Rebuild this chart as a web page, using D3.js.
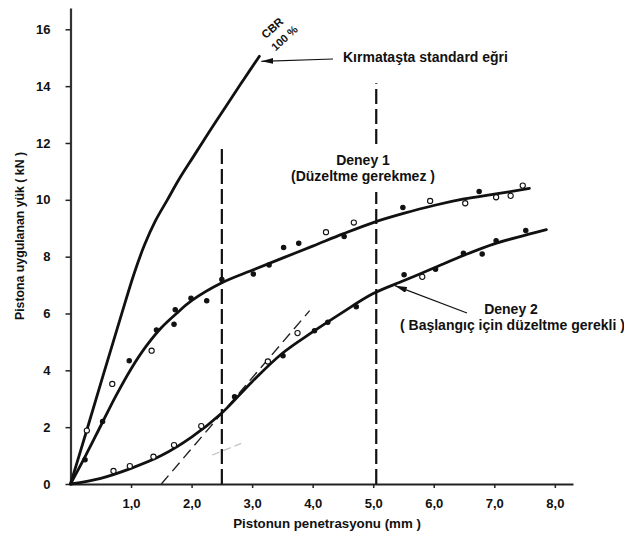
<!DOCTYPE html>
<html>
<head>
<meta charset="utf-8">
<script src="https://cdn.jsdelivr.net/npm/d3@7"></script>
<style>
  body { margin: 0; background: #fff; }
  svg text { font-family: 'Liberation Sans', Arial, sans-serif; font-weight: bold; fill: #111; }
</style>
</head>
<body>
<div id="chart"></div>
<script>
// Tick values
const xTicks = [1, 2, 3, 4, 5, 6, 7, 8];
const yTicks = [0, 2, 4, 6, 8, 10, 12, 14, 16];

// Standard curve for crushed stone (CBR 100 %), [mm, kN]
const standardCurve = [[0, 0], [0.27, 1.9], [0.55, 3.9], [0.84, 5.95], [1.05, 7.4], [1.22, 8.4],
  [1.4, 9.25], [1.6, 10.0], [1.8, 10.75], [2.03, 11.52], [2.3, 12.42], [2.58, 13.33], [2.85, 14.2],
  [3.12, 15.05]];

// Fitted curves of the two tests
const deney1Curve = [[0, 0], [0.25, 1.0], [0.5, 2.05], [0.75, 3.1], [1.0, 4.05], [1.25, 4.85], [1.5, 5.5],
  [1.75, 6.0], [2.0, 6.45], [2.5, 7.08], [3.0, 7.52], [3.5, 7.95], [4.0, 8.37], [4.5, 8.8], [5.0, 9.2],
  [5.5, 9.52], [6.0, 9.8], [6.5, 10.03], [7.0, 10.2], [7.58, 10.4]];
const deney2Curve = [[0, 0], [0.5, 0.2], [1.0, 0.55], [1.5, 1.0], [2.0, 1.65], [2.5, 2.5], [3.0, 3.6],
  [3.5, 4.6], [4.0, 5.35], [4.5, 6.05], [5.0, 6.7], [5.5, 7.15], [6.0, 7.6], [6.5, 8.05], [7.0, 8.45],
  [7.5, 8.75], [7.86, 8.95]];

// Measured points: [mm, kN, open marker?]
const deney1Points = [[0.24, 0.85, 0], [0.27, 1.88, 1], [0.53, 2.2, 0], [0.69, 3.52, 1], [0.97, 4.34, 0],
  [1.34, 4.69, 1], [1.42, 5.42, 0], [1.71, 5.62, 0], [1.73, 6.13, 0], [1.99, 6.54, 0], [2.25, 6.45, 0],
  [2.5, 7.2, 0], [3.02, 7.39, 0], [3.28, 7.71, 0], [3.52, 8.32, 0], [3.77, 8.47, 0], [4.22, 8.86, 1],
  [4.52, 8.71, 0], [4.68, 9.2, 1], [5.49, 9.73, 0], [5.94, 9.96, 1], [6.52, 9.88, 1], [6.75, 10.29, 0],
  [7.03, 10.09, 1], [7.27, 10.14, 1], [7.47, 10.5, 1]];
const deney2Points = [[0.71, 0.46, 1], [0.98, 0.63, 1], [1.37, 0.96, 1], [1.71, 1.37, 1], [2.16, 2.04, 1],
  [2.71, 3.07, 0], [3.26, 4.31, 1], [3.51, 4.51, 0], [3.75, 5.31, 1], [4.03, 5.39, 0], [4.25, 5.69, 0],
  [4.72, 6.24, 0], [5.51, 7.36, 0], [5.81, 7.29, 1], [6.03, 7.56, 0], [6.49, 8.12, 0], [6.8, 8.09, 0],
  [7.03, 8.56, 0], [7.52, 8.92, 0]];

// Correction tangent for test 2, and the 2.5 / 5.0 mm guide lines [x, top]
const tangentLine = [[1.5, 0], [3.95, 6.1]];
const faintSegment = [[2.34, 1.02], [2.82, 1.43]];
const guideLines = [[2.5, 11.86], [5.05, 14.1]];

class CbrChart {
  constructor(_config) {
    this.config = {
      parentElement: _config.parentElement,
      containerWidth: 624,
      containerHeight: 534,
      origin: { x: 70.5, y: 484 },
    };
    this.initVis();
  }

  initVis() {
    const vis = this;
    const o = vis.config.origin;

    vis.svg = d3.select(vis.config.parentElement).append('svg')
      .attr('width', vis.config.containerWidth)
      .attr('height', vis.config.containerHeight);

    // arrow head
    vis.svg.append('defs').append('marker')
      .attr('id', 'arrow')
      .attr('viewBox', '0 0 12 6')
      .attr('refX', 12).attr('refY', 3)
      .attr('markerWidth', 12).attr('markerHeight', 6)
      .attr('markerUnits', 'userSpaceOnUse')
      .attr('orient', 'auto')
      .append('path')
      .attr('d', 'M0,0L12,3L0,6z')
      .attr('fill', '#111');

    vis.xScale = d3.scaleLinear().domain([0, 8.3]).range([o.x, 573]);
    vis.yScale = d3.scaleLinear().domain([0, 16.75]).range([o.y, 8]);

    vis.xAxis = d3.axisBottom(vis.xScale)
      .tickValues(xTicks)
      .tickSize(4).tickSizeOuter(0).tickPadding(11)
      .tickFormat((d) => d.toFixed(1).replace('.', ','));

    vis.yAxis = d3.axisLeft(vis.yScale)
      .tickValues(yTicks)
      .tickSize(5).tickSizeOuter(0).tickPadding(15)
      .tickFormat(d3.format('d'));

    vis.line = d3.line()
      .x((d) => vis.xScale(d[0]))
      .y((d) => vis.yScale(d[1]))
      .curve(d3.curveCatmullRom.alpha(0.5));

    vis.renderVis();
  }

  renderVis() {
    const vis = this;
    const x = vis.xScale;
    const y = vis.yScale;

    // axes
    vis.svg.append('g')
      .attr('transform', `translate(0,${vis.config.origin.y})`)
      .call(vis.xAxis)
      .call((g) => g.select('.domain').attr('stroke', '#222').attr('stroke-width', 1.8))
      .call((g) => g.selectAll('.tick line').attr('stroke', '#222').attr('stroke-width', 1.5))
      .call((g) => g.selectAll('.tick text').attr('font-size', 13).attr('fill', '#111'));

    vis.svg.append('g')
      .attr('transform', `translate(${vis.config.origin.x},0)`)
      .call(vis.yAxis)
      .call((g) => g.select('.domain').attr('stroke', '#333').attr('stroke-width', 2.2))
      .call((g) => g.selectAll('.tick line').attr('stroke', '#222').attr('stroke-width', 1.5))
      .call((g) => g.selectAll('.tick text').attr('font-size', 13).attr('fill', '#111'));

    // axis titles
    vis.svg.append('text')
      .attr('x', 327).attr('y', 528)
      .attr('text-anchor', 'middle')
      .attr('font-size', 13.3)
      .text('Pistonun penetrasyonu (mm )');

    vis.svg.append('text')
      .attr('transform', 'translate(24,236) rotate(-90)')
      .attr('text-anchor', 'middle')
      .attr('font-size', 12.3)
      .text('Pistona uygulanan yük ( kN )');

    // guide lines at 2.5 and 5.0 mm
    vis.svg.selectAll('.guide')
      .data(guideLines)
      .join('line')
      .attr('class', 'guide')
      .attr('x1', (d) => x(d[0])).attr('x2', (d) => x(d[0]))
      .attr('y1', y(0)).attr('y2', (d) => y(d[1]))
      .attr('stroke', '#111')
      .attr('stroke-width', 2.2)
      .attr('stroke-dasharray', '15,5');

    // tangent correction line
    vis.svg.append('path')
      .attr('d', d3.line().x((d) => x(d[0])).y((d) => y(d[1]))(tangentLine))
      .attr('fill', 'none')
      .attr('stroke', '#222')
      .attr('stroke-width', 1.4)
      .attr('stroke-dasharray', '11,6');

    vis.svg.append('path')
      .attr('d', d3.line().x((d) => x(d[0])).y((d) => y(d[1]))(faintSegment))
      .attr('fill', 'none')
      .attr('stroke', '#c4c4c4')
      .attr('stroke-width', 1.3)
      .attr('stroke-dasharray', '8,4');

    // curves
    vis.svg.selectAll('.curve')
      .data([standardCurve, deney1Curve, deney2Curve])
      .join('path')
      .attr('class', 'curve')
      .attr('d', vis.line)
      .attr('fill', 'none')
      .attr('stroke', '#111')
      .attr('stroke-width', 2.8)
      .attr('stroke-linecap', 'round');

    // measured points
    vis.svg.selectAll('.point')
      .data(deney1Points.concat(deney2Points))
      .join('circle')
      .attr('class', 'point')
      .attr('cx', (d) => x(d[0]))
      .attr('cy', (d) => y(d[1]))
      .attr('r', (d) => (d[2] ? 2.6 : 2.2))
      .attr('fill', (d) => (d[2] ? '#fff' : '#111'))
      .attr('stroke', '#111')
      .attr('stroke-width', 1.1);

    // annotations
    const stdEnd = standardCurve[standardCurve.length - 1];
    vis.svg.append('line')
      .attr('x1', 333).attr('y1', 59)
      .attr('x2', x(stdEnd[0]) + 2).attr('y2', y(stdEnd[1]) + 5)
      .attr('stroke', '#111').attr('stroke-width', 1.2)
      .attr('marker-end', 'url(#arrow)');

    vis.svg.append('text')
      .attr('x', 343).attr('y', 62)
      .attr('font-size', 14)
      .text('Kırmataşta standard eğri');

    vis.svg.append('text')
      .attr('transform', 'translate(275,31) rotate(-42)')
      .attr('text-anchor', 'middle')
      .attr('font-size', 11.5)
      .text('CBR');

    vis.svg.append('text')
      .attr('transform', 'translate(287,41) rotate(-42)')
      .attr('text-anchor', 'middle')
      .attr('font-size', 11)
      .text('100 %');

    // white backdrop: the 5.0 mm guide is broken behind the label
    vis.svg.append('rect')
      .attr('x', 288).attr('y', 148)
      .attr('width', 152).attr('height', 44)
      .attr('fill', '#fff');

    vis.svg.append('text')
      .attr('x', 363).attr('y', 164.5)
      .attr('text-anchor', 'middle')
      .attr('font-size', 14)
      .text('Deney 1');

    vis.svg.append('text')
      .attr('x', 363).attr('y', 180.5)
      .attr('text-anchor', 'middle')
      .attr('font-size', 14)
      .text('(Düzeltme gerekmez )');

    vis.svg.append('line')
      .attr('x1', 467).attr('y1', 313)
      .attr('x2', x(5.36)).attr('y2', y(6.98))
      .attr('stroke', '#111').attr('stroke-width', 1.2)
      .attr('marker-end', 'url(#arrow)');

    vis.svg.append('text')
      .attr('x', 511).attr('y', 313.5)
      .attr('text-anchor', 'middle')
      .attr('font-size', 14)
      .text('Deney 2');

    vis.svg.append('text')
      .attr('x', 400).attr('y', 330)
      .attr('font-size', 14)
      .text('( Başlangıç için düzeltme gerekli )');
  }
}

new CbrChart({ parentElement: '#chart' });
</script>
</body>
</html>
